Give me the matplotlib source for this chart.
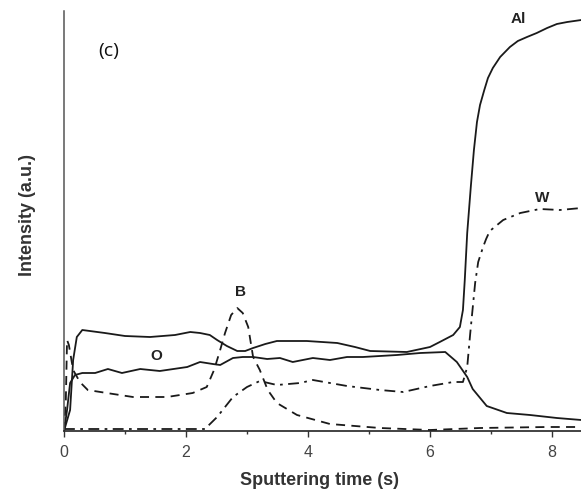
import matplotlib
matplotlib.use("Agg")
import matplotlib.pyplot as plt
from matplotlib.ticker import MultipleLocator

plt.rcParams['font.family'] = ['Liberation Sans', 'DejaVu Sans']

# Al (solid)
al_t = [0, 0.10, 0.15, 0.21, 0.30, 0.67, 1.00, 1.41, 1.82, 2.07, 2.23, 2.39, 2.51, 2.67, 2.84, 2.97,
        3.10, 3.30, 3.49, 3.98, 4.48, 4.77, 5.02, 5.62, 6.00, 6.16, 6.38, 6.49, 6.54, 6.57, 6.61,
        6.67, 6.72, 6.77, 6.82, 6.89, 6.95, 7.03, 7.15, 7.31, 7.44, 7.59, 7.75, 7.92, 8.08, 8.25, 8.48]
al_v = [0, 21, 71, 94, 101, 98, 95, 94, 96, 99, 98, 96, 91, 85, 80, 80,
        83, 87, 90, 90, 88, 84, 80, 79, 84, 89, 96, 104, 121, 151, 198,
        245, 281, 309, 326, 341, 353, 363, 374, 384, 390, 394, 398, 403, 407, 409, 411]

# O (solid)
o_t = [0, 0.05, 0.10, 0.18, 0.30, 0.51, 0.72, 0.95, 1.25, 1.57, 2.02, 2.23, 2.44, 2.56, 2.77, 2.93,
       3.10, 3.33, 3.54, 3.75, 4.08, 4.36, 4.64, 4.90, 5.46, 5.84, 6.25, 6.44, 6.61, 6.70, 6.93,
       7.26, 7.64, 8.08, 8.48]
o_v = [0, 21, 48, 56, 58, 58, 62, 58, 62, 60, 64, 69, 67, 66, 73, 74,
       74, 72, 73, 69, 73, 71, 74, 74, 76, 78, 79, 69, 54, 42, 25,
       18, 16, 13, 11]

# B (dashed)
b_t = [0, 0.03, 0.05, 0.08, 0.15, 0.26, 0.39, 0.70, 1.13, 1.69, 2.11, 2.34, 2.46, 2.56, 2.64, 2.74,
       2.84, 2.93, 3.02, 3.10, 3.21, 3.34, 3.49, 3.82, 4.36, 5.18, 6.00, 6.82, 7.92, 8.48]
b_v = [0, 31, 91, 86, 61, 49, 41, 38, 34, 34, 38, 44, 61, 81, 98, 116,
       123, 118, 104, 74, 61, 41, 28, 16, 7, 3, 1, 3, 4, 4]

# W (dash-dot)
w_t = [0, 2.31, 2.51, 2.77, 3.00, 3.21, 3.49, 3.87, 4.08, 4.64, 5.18, 5.56, 6.00, 6.38, 6.54, 6.61,
       6.66, 6.74, 6.79, 6.87, 6.92, 6.98, 7.20, 7.48, 7.80, 8.13, 8.48]
w_v = [2, 2, 14, 34, 44, 50, 46, 48, 51, 45, 41, 39, 45, 49, 49, 64,
       98, 148, 169, 184, 192, 200, 211, 218, 222, 221, 223]

xticks = [0, 2, 4, 6, 8]
element_labels = ["Al", "W", "B", "O"]
label_pos_t = [7.45, 7.84, 2.89, 1.52]
label_pos_v = [412, 233, 139, 75]

fig = plt.figure(figsize=(5.81, 4.94), dpi=100)
ax = fig.add_axes([64 / 581, 63 / 494, 517 / 581, 420 / 494])

lc = '#1a1a1a'
ax.plot(al_t, al_v, color=lc, lw=1.3, linestyle='-')
ax.plot(o_t, o_v, color=lc, lw=1.3, linestyle='-')
ax.plot(b_t, b_v, color=lc, lw=1.3, linestyle=(0, (5, 3.5)))
ax.plot(w_t, w_v, color=lc, lw=1.3, linestyle=(0, (6, 3, 1.5, 3)))

for lab, tx, vy in zip(element_labels, label_pos_t, label_pos_v):
    ax.text(tx, vy, lab, ha='center', va='center', fontsize=11, fontweight='bold', color='#222222')

ax.text(0.087, 0.905, "(c)", transform=ax.transAxes, ha='center', va='center',
        fontsize=14, color='#111111', family=['Open Sans', 'DejaVu Sans'])

ax.set_xlim(0, 517 / 61)
ax.set_ylim(0, 420)
ax.set_xticks(xticks)
ax.set_xticklabels([str(x) for x in xticks])
ax.xaxis.set_minor_locator(MultipleLocator(1))
ax.set_yticks([])
ax.tick_params(axis='x', which='major', direction='out', length=4, width=1, colors='#333333',
               labelsize=11.5, labelcolor='#444444', pad=6)
ax.tick_params(axis='x', which='minor', direction='out', length=2.5, width=1, colors='#333333')

for s in ['top', 'right']:
    ax.spines[s].set_visible(False)
ax.spines['left'].set_color('#555555')
ax.spines['left'].set_linewidth(1.1)
ax.spines['bottom'].set_color('#222222')
ax.spines['bottom'].set_linewidth(1.2)

fig.text(320 / 581, 1 - 480 / 494, "Sputtering time (s)", ha='center', va='center',
         fontsize=13, fontweight='bold', color='#333333')
fig.text(27 / 581, 1 - 215 / 494, "Intensity (a.u.)", ha='center', va='center', rotation=90,
         fontsize=13, fontweight='bold', color='#333333')

fig.savefig("out.png", dpi=100)
